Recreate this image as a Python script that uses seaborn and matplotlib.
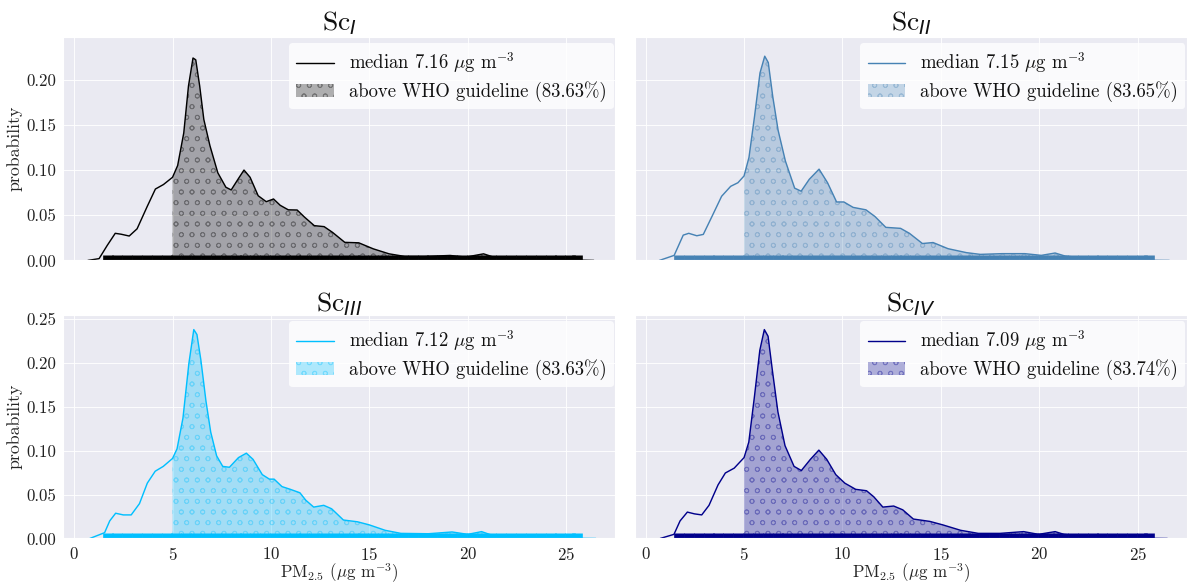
import matplotlib
matplotlib.use("Agg")
import matplotlib.pyplot as plt
import seaborn as sns
import numpy as np
import pandas as pd

# ---------------- data ----------------
scenarios = ["I", "II", "III", "IV"]
colors = ["black", "steelblue", "deepskyblue", "darkblue"]
medians = ["7.16", "7.15", "7.12", "7.09"]
above_who = ["83.63", "83.65", "83.63", "83.74"]
who_guideline = 5.0

x_sc1 = [0.70, 1.27, 1.68, 2.09, 2.39, 2.80, 3.20, 3.72, 4.13, 4.54, 5.00, 5.26, 5.57, 5.81,
         6.04, 6.18, 6.38, 6.59, 6.90, 7.30, 7.71, 7.98, 8.33, 8.63, 8.94, 9.35, 9.76, 10.13,
         10.47, 10.88, 11.33, 11.70, 12.20, 12.70, 13.13, 13.75, 14.46, 15.20, 16.00, 16.80,
         17.80, 19.10, 19.90, 20.80, 21.30, 22.70, 24.80, 26.40]
y_sc1 = [0.0, 0.002, 0.0165, 0.030, 0.029, 0.027, 0.035, 0.060, 0.079, 0.084, 0.092, 0.105,
         0.141, 0.193, 0.224, 0.222, 0.193, 0.156, 0.127, 0.097, 0.081, 0.078, 0.090, 0.100,
         0.092, 0.0716, 0.065, 0.068, 0.061, 0.056, 0.0558, 0.048, 0.0385, 0.0374, 0.031,
         0.020, 0.0195, 0.0128, 0.0073, 0.0044, 0.0044, 0.0055, 0.0037, 0.0073, 0.0037,
         0.0018, 0.0007, 0.0]

x_sc2 = [0.70, 1.45, 1.91, 2.19, 2.60, 2.93, 3.40, 3.86, 4.32, 4.69, 5.00, 5.25, 5.53, 5.81,
         6.05, 6.23, 6.46, 6.73, 7.10, 7.57, 7.90, 8.31, 8.81, 9.24, 9.70, 10.07, 10.54,
         11.19, 11.65, 12.20, 12.95, 13.40, 14.06, 14.60, 15.36, 16.30, 17.00, 18.10, 19.26,
         20.10, 20.80, 21.30, 22.60, 24.45, 26.60]
y_sc2 = [0.0, 0.0056, 0.028, 0.030, 0.0273, 0.0288, 0.050, 0.071, 0.082, 0.086, 0.0935, 0.114,
         0.159, 0.2075, 0.226, 0.219, 0.181, 0.144, 0.110, 0.080, 0.0766, 0.0897, 0.101,
         0.086, 0.0647, 0.0647, 0.0587, 0.056, 0.0486, 0.0366, 0.0355, 0.030, 0.0187,
         0.0198, 0.013, 0.0086, 0.0067, 0.0075, 0.0075, 0.0056, 0.0082, 0.0049, 0.0019,
         0.0004, 0.0]

x_sc3 = [0.80, 1.55, 1.81, 2.11, 2.50, 2.90, 3.32, 3.72, 4.12, 4.53, 5.00, 5.23, 5.53, 5.83,
         6.08, 6.24, 6.44, 6.70, 6.94, 7.24, 7.55, 7.89, 8.35, 8.75, 9.09, 9.56, 9.92, 10.16,
         10.56, 10.97, 11.47, 11.77, 12.17, 12.68, 13.08, 13.68, 14.39, 14.99, 15.80, 16.60,
         18.00, 19.20, 20.00, 20.70, 21.20, 22.40, 24.40, 26.50]
y_sc3 = [0.0, 0.0066, 0.020, 0.0287, 0.0268, 0.0268, 0.0396, 0.063, 0.0765, 0.082, 0.091,
         0.102, 0.137, 0.199, 0.2376, 0.232, 0.203, 0.156, 0.121, 0.094, 0.082, 0.081, 0.092,
         0.097, 0.090, 0.0726, 0.0675, 0.0675, 0.059, 0.056, 0.052, 0.0435, 0.0357, 0.0377,
         0.0338, 0.021, 0.019, 0.0155, 0.0093, 0.0058, 0.0054, 0.0074, 0.0047, 0.0078,
         0.0039, 0.0016, 0.0004, 0.0]

x_sc4 = [0.74, 1.44, 1.75, 2.12, 2.48, 2.85, 3.22, 3.68, 4.05, 4.50, 5.00, 5.24, 5.52, 5.80,
         6.03, 6.22, 6.44, 6.72, 7.08, 7.54, 7.91, 8.37, 8.80, 9.20, 9.66, 10.12, 10.67,
         11.22, 11.59, 12.05, 12.60, 13.06, 13.60, 14.44, 15.09, 16.00, 16.90, 18.00, 19.20,
         19.96, 20.80, 21.25, 22.45, 24.30, 26.50]
y_sc4 = [0.0, 0.0047, 0.020, 0.030, 0.028, 0.0268, 0.0377, 0.061, 0.0745, 0.080, 0.092,
         0.1095, 0.160, 0.214, 0.2376, 0.230, 0.191, 0.144, 0.1056, 0.082, 0.0773, 0.090,
         0.1005, 0.090, 0.0726, 0.0629, 0.0559, 0.0543, 0.0474, 0.0357, 0.0369, 0.0326,
         0.0221, 0.0194, 0.0155, 0.0093, 0.0058, 0.0058, 0.0078, 0.0047, 0.0078, 0.0047,
         0.0019, 0.0004, 0.0]

# rug marks (observations) - visually a dense band
rug_pm25 = [1.70, 2.2, 2.7, 3.2, 3.7, 4.2, 4.7, 5.2, 5.7, 6.2, 6.7, 7.2, 7.7, 8.2, 8.7, 9.2,
            9.7, 10.2, 10.7, 11.2, 11.7, 12.2, 12.7, 13.2, 13.7, 14.2, 14.7, 15.2, 15.7,
            16.2, 16.7, 17.2, 17.7, 18.2, 18.7, 19.2, 19.7, 20.2, 20.7, 21.2, 21.7, 22.2,
            22.7, 23.2, 23.7, 24.2, 24.7, 25.2, 25.55]

curves_x = [x_sc1, x_sc2, x_sc3, x_sc4]
curves_y = [y_sc1, y_sc2, y_sc3, y_sc4]

# ---------------- style ----------------
sns.set_theme(style="darkgrid")
plt.rcParams["font.family"] = ["cmr10", "DejaVu Serif"]
plt.rcParams["mathtext.fontset"] = "cm"
plt.rcParams["axes.formatter.use_mathtext"] = True
plt.rcParams["axes.unicode_minus"] = False

DPI = 64
fig, axes = plt.subplots(2, 2, figsize=(1187 / DPI, 586 / DPI), dpi=DPI)
fig.subplots_adjust(left=0.0533, right=1.0, top=0.9374, bottom=0.0811,
                    wspace=0.035, hspace=0.2427)

tick_fs = 19
label_fs = 20
xlabel_fs = 19
legend_fs = 21
title_fs = 31

for i, ax in enumerate(axes.flat):
    df = pd.DataFrame({"pm": curves_x[i], "density": curves_y[i]})
    c = colors[i]
    sub = df[df["pm"] >= who_guideline]
    ax.fill_between(sub["pm"], sub["density"], color=c, alpha=0.3, hatch="o",
                    linewidth=0, label=f"above WHO guideline ({above_who[i]}%)")
    sns.lineplot(data=df, x="pm", y="density", ax=ax, color=c, lw=1.6, sort=False,
                 label=r"median " + medians[i] + r" $\mu$g m$^{-3}$")
    sns.rugplot(x=rug_pm25, ax=ax, color=c, height=0.025, linewidth=12,
                expand_margins=False)

    ax.set_xlim(-0.55, 27.5)
    if i < 2:
        ax.set_ylim(0, 0.2476)
        ax.set_yticks([0.0, 0.05, 0.10, 0.15, 0.20])
        ax.set_xlabel("")
        ax.tick_params(labelbottom=False)
    else:
        ax.set_ylim(0, 0.2545)
        ax.set_yticks([0.0, 0.05, 0.10, 0.15, 0.20, 0.25])
        ax.set_xlabel(r"PM$_{2.5}$ ($\mu$g m$^{-3}$)", fontsize=xlabel_fs, labelpad=-1.0)
    ax.set_xticks([0, 5, 10, 15, 20, 25])
    ax.set_yticklabels([f"{t:.2f}" for t in ax.get_yticks()])
    if i % 2 == 0:
        ax.set_ylabel("probability", fontsize=label_fs, labelpad=4)
    else:
        ax.set_ylabel("")
        ax.tick_params(labelleft=False)
    ax.tick_params(labelsize=tick_fs, colors="#222222", pad=2.0)
    ax.set_title(r"Sc$_{" + scenarios[i] + r"}$", fontsize=title_fs,
                 math_fontfamily="dejavusans", color="#111111", pad=4)

    h, l = ax.get_legend_handles_labels()
    order = [l.index(x) for x in l if x.startswith("median")] + \
            [l.index(x) for x in l if x.startswith("above")]
    leg = ax.legend([h[k] for k in order], [l[k] for k in order], loc="upper right",
                    bbox_to_anchor=(0.997, 0.972), borderaxespad=0.0,
                    fontsize=legend_fs, facecolor="white", framealpha=0.8,
                    edgecolor="none", handlelength=2.0, labelspacing=0.3)
    for t in leg.get_texts():
        t.set_color("#111111")

fig.savefig("out.png", dpi=DPI)
